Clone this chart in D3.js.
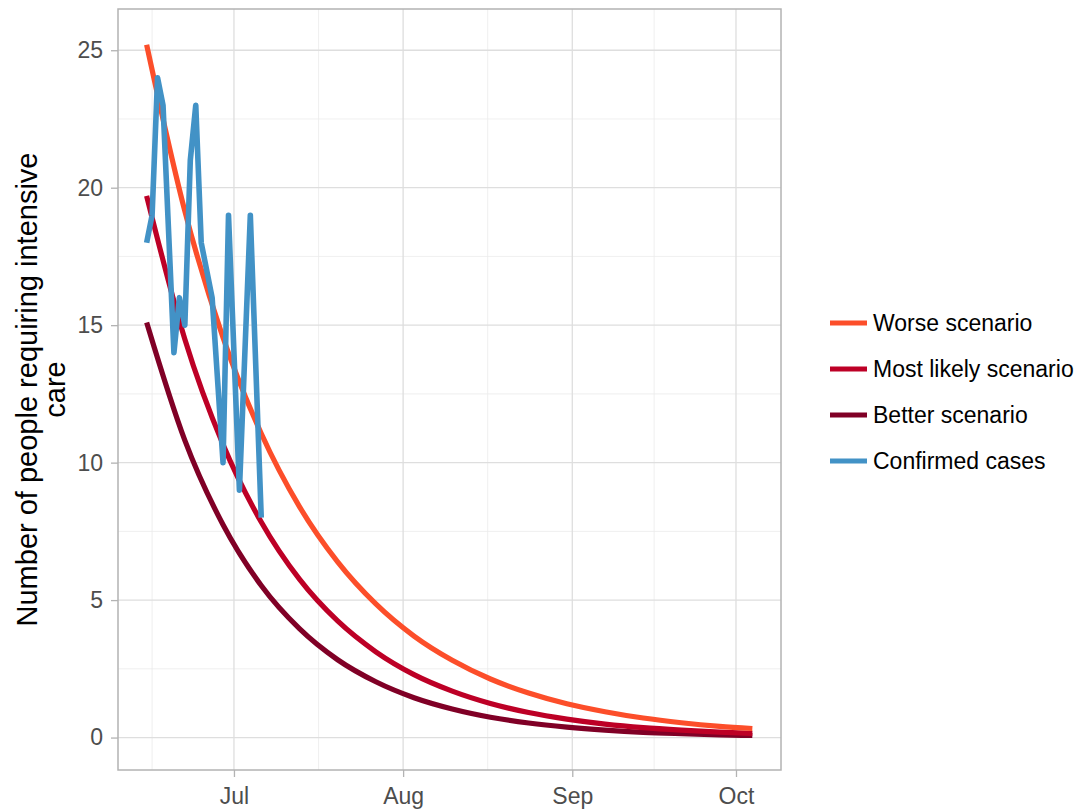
<!DOCTYPE html>
<html>
<head>
<meta charset="utf-8">
<script src="https://cdn.jsdelivr.net/npm/d3@7"></script>
<style>
body{margin:0;background:#fff;}
svg{display:block;font-family:"Liberation Sans",Arial,sans-serif;}
</style>
</head>
<body>
<div id="plot"></div>
<script>
// scenario curves, read every 7 days from Jun 15
var scenarioDates = ['2020-06-15','2020-06-22','2020-06-29','2020-07-06','2020-07-13','2020-07-20','2020-07-27','2020-08-03','2020-08-10','2020-08-17','2020-08-24','2020-08-31','2020-09-07','2020-09-14','2020-09-21','2020-09-28','2020-10-04'];
var worse      = [25.2,19.15,14.55,11.06,8.40,6.39,4.86,3.69,2.81,2.13,1.62,1.23,0.94,0.71,0.54,0.41,0.33];
var mostLikely = [19.7,14.49,10.66,7.84,5.76,4.24,3.12,2.29,1.69,1.24,0.91,0.67,0.49,0.36,0.27,0.20,0.15];
var better     = [15.1,10.81,7.74,5.53,3.96,2.83,2.03,1.45,1.04,0.74,0.53,0.38,0.27,0.19,0.14,0.10,0.075];

// confirmed ICU counts
var confirmedDates = ['2020-06-15','2020-06-16','2020-06-17','2020-06-18','2020-06-20','2020-06-21','2020-06-22','2020-06-23','2020-06-24','2020-06-25','2020-06-27','2020-06-29','2020-06-30','2020-07-02','2020-07-04','2020-07-06'];
var confirmed = [18,19,24,23,14,16,15,21,23,18,16,10,19,9,19,8];

var seriesNames = ['Worse scenario','Most likely scenario','Better scenario','Confirmed cases'];
var seriesColors = ['#fc4e2a','#bd0026','#800026','#4292c6'];

var yTicks = [0,5,10,15,20,25];
var yMinor = [2.5,7.5,12.5,17.5,22.5];
var xTicks = ['2020-07-01','2020-08-01','2020-09-01','2020-10-01'];
var xMinor = ['2020-06-16','2020-07-16T12:00','2020-08-16T12:00','2020-09-16'];

var W = 1077, H = 811;
var margin = {t:9,l:118,r:296,b:41};
var width = W-margin.l-margin.r,
	height = H-margin.t-margin.b;

var parseDate = function(s){ return new Date(s.length>10 ? s : s+'T00:00'); };

var svg = d3.select('#plot').append('svg')
	.attr('width',W).attr('height',H);

var plot = svg.append('g')
	.attr('transform','translate('+margin.l+','+margin.t+')');

var x = d3.scaleTime()
	.domain([parseDate('2020-06-09T18:00'), parseDate('2020-10-09T06:00')])
	.range([0,width]);
var y = d3.scaleLinear()
	.domain([-1.18,26.5])
	.range([height,0]);

// grid
plot.selectAll('.ymin').data(yMinor).enter().append('line')
	.attr('x1',0).attr('x2',width)
	.attr('y1',function(d){return y(d)}).attr('y2',function(d){return y(d)})
	.attr('stroke','#ebebeb').attr('stroke-width',0.8);
plot.selectAll('.xmin').data(xMinor).enter().append('line')
	.attr('y1',0).attr('y2',height)
	.attr('x1',function(d){return x(parseDate(d))}).attr('x2',function(d){return x(parseDate(d))})
	.attr('stroke','#ebebeb').attr('stroke-width',0.8);
plot.selectAll('.ymaj').data(yTicks).enter().append('line')
	.attr('x1',0).attr('x2',width)
	.attr('y1',function(d){return y(d)}).attr('y2',function(d){return y(d)})
	.attr('stroke','#dedede').attr('stroke-width',1.3);
plot.selectAll('.xmaj').data(xTicks).enter().append('line')
	.attr('y1',0).attr('y2',height)
	.attr('x1',function(d){return x(parseDate(d))}).attr('x2',function(d){return x(parseDate(d))})
	.attr('stroke','#dedede').attr('stroke-width',1.3);

// lines
var line = d3.line()
	.x(function(d){return x(d.date)})
	.y(function(d){return y(d.value)});

var scenarios = [worse, mostLikely, better].map(function(vals,i){
	return {name:seriesNames[i], color:seriesColors[i], values:vals.map(function(v,j){
		return {date:parseDate(scenarioDates[j]), value:v};
	})};
});

// draw better first so worse ends on top like the reference
scenarios.slice().reverse().forEach(function(s){
	plot.append('path')
		.datum(s.values)
		.attr('fill','none')
		.attr('stroke',s.color)
		.attr('stroke-width',5.2)
		.attr('d',line.curve(d3.curveMonotoneX));
});

var confData = confirmed.map(function(v,i){ return {date:parseDate(confirmedDates[i]), value:v}; });
plot.append('path')
	.datum(confData)
	.attr('fill','none')
	.attr('stroke',seriesColors[3])
	.attr('stroke-width',5.6)
	.attr('stroke-linejoin','round')
	.attr('d',line.curve(d3.curveLinear));

// border
plot.append('rect')
	.attr('x',0).attr('y',0).attr('width',width).attr('height',height)
	.attr('fill','none').attr('stroke','#b3b3b3').attr('stroke-width',1.5);

// axes
var yAxis = d3.axisLeft(y).tickValues(yTicks).tickSize(7).tickPadding(8);
var gy = plot.append('g').call(yAxis);
var xAxis = d3.axisBottom(x).tickValues(xTicks.map(parseDate)).tickSize(7).tickPadding(11)
	.tickFormat(d3.timeFormat('%b'));
var gx = plot.append('g').attr('transform','translate(0,'+height+')').call(xAxis);

[gx,gy].forEach(function(g){
	g.select('.domain').remove();
	g.selectAll('.tick line').attr('stroke','#b3b3b3').attr('stroke-width',1.3);
	g.selectAll('.tick text').attr('fill','#4d4d4d').style('font-size','23px')
		.style('font-family','"Liberation Sans",Arial,sans-serif');
});

// y title
var yt = svg.append('text')
	.attr('transform','translate(0,'+(margin.t+height/2)+') rotate(-90)')
	.attr('text-anchor','middle')
	.style('font-size','29px')
	.attr('fill','#000');
yt.append('tspan').attr('x',0).attr('y',37).text('Number of people requiring intensive');
yt.append('tspan').attr('x',0).attr('y',65).text('care');

// legend
var legend = svg.append('g').attr('transform','translate(830,323)');
seriesNames.forEach(function(n,i){
	var g = legend.append('g').attr('transform','translate(0,'+(i*46)+')');
	g.append('line').attr('x1',0).attr('x2',37).attr('y1',0).attr('y2',0)
		.attr('stroke',seriesColors[i]).attr('stroke-width',5.2);
	g.append('text').attr('x',43).attr('y',0).attr('dy','0.36em')
		.style('font-size','23px').attr('fill','#000').text(n);
});
</script>
</body>
</html>
